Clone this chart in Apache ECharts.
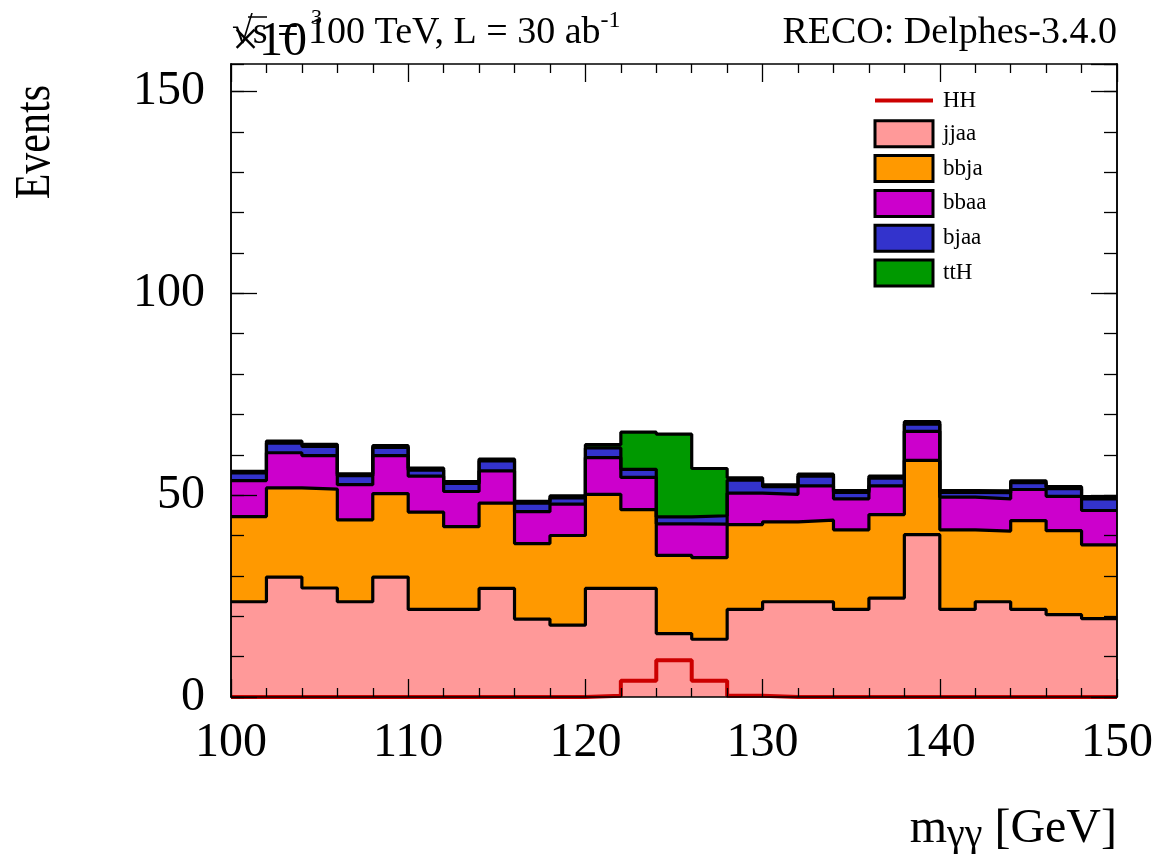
<!DOCTYPE html>
<html>
<head>
<meta charset="utf-8">
<script src="https://cdn.jsdelivr.net/npm/echarts@6/dist/echarts.min.js"></script>
<style>
  html, body { margin: 0; padding: 0; background: #ffffff; }
  #chart { width: 1159px; height: 854px; }
</style>
</head>
<body>
<div id="chart"></div>
<script>
// Diphoton invariant mass, stacked backgrounds; events in units of 10^3 per 2 GeV bin.
const binEdges = [100, 102, 104, 106, 108, 110, 112, 114, 116, 118, 120, 122, 124,
                  126, 128, 130, 132, 134, 136, 138, 140, 142, 144, 146, 148, 150];

const jjaa = [23.6, 29.7, 27.0, 23.6, 29.7, 21.7, 21.7, 26.9, 19.3, 17.8, 26.9, 26.9, 15.7,
              14.3, 21.7, 23.6, 23.6, 21.7, 24.5, 40.2, 21.7, 23.6, 21.7, 20.4, 19.4];
const bbja = [21.1, 22.1, 24.5, 20.3, 20.7, 24.1, 20.5, 21.1, 18.7, 22.2, 23.3, 19.5, 19.4,
              20.2, 21.0, 19.8, 20.2, 19.7, 20.7, 18.4, 19.7, 17.5, 22.0, 20.8, 18.3];
const bbaa = [8.9, 8.7, 8.3, 8.7, 9.4, 8.9, 8.7, 8.0, 7.9, 7.8, 9.1, 8.0, 7.8,
              8.3, 7.8, 6.8, 8.5, 7.7, 7.1, 7.2, 8.1, 8.0, 7.7, 8.5, 8.5];
const bjaa = [1.9, 2.4, 2.3, 2.2, 2.0, 1.5, 2.0, 2.5, 2.1, 1.5, 2.4, 2.0, 1.7,
              2.1, 3.2, 1.9, 2.4, 1.6, 1.9, 1.8, 1.2, 1.5, 1.7, 1.9, 2.9];
const ttH  = [0.4, 0.5, 0.5, 0.45, 0.45, 0.5, 0.45, 0.45, 0.45, 0.5, 0.8, 9.2, 20.5,
              11.7, 0.6, 0.45, 0.5, 0.45, 0.5, 0.6, 0.45, 0.45, 0.45, 0.5, 0.55];
const HH   = [0, 0, 0, 0, 0, 0, 0, 0, 0, 0, 0.3, 4.0, 9.1,
              4.0, 0.3, 0, 0, 0, 0, 0, 0, 0, 0, 0, 0];

const xTicks = [100, 110, 120, 130, 140, 150];
const yTicks = [0, 50, 100, 150];

const SERIF = '"Liberation Serif", "DejaVu Serif", serif';

// Stack order from bottom to top, with fill colours.
const layers = [
  { name: 'jjaa', values: jjaa, color: '#ff9999' },
  { name: 'bbja', values: bbja, color: '#ff9900' },
  { name: 'bbaa', values: bbaa, color: '#cc00cc' },
  { name: 'bjaa', values: bjaa, color: '#3333cc' },
  { name: 'ttH',  values: ttH,  color: '#009900' }
];

// Step outline points: one point per lower bin edge, closed at the upper edge.
function stepPoints(values) {
  const pts = values.map((v, i) => [binEdges[i], v]);
  pts.push([binEdges[binEdges.length - 1], values[values.length - 1]]);
  return pts;
}

// Running totals so each layer is filled from zero up to its cumulative height.
const running = new Array(binEdges.length - 1).fill(0);
const cumulative = layers.map(layer => {
  const totals = layer.values.map((v, i) => (running[i] += v));
  return { ...layer, totals: totals.slice() };
});

// Draw the tallest total first so lower layers paint over it.
const stackSeries = cumulative.slice().reverse().map(layer => ({
  name: layer.name,
  type: 'line',
  step: 'end',
  symbol: 'none',
  data: stepPoints(layer.totals),
  lineStyle: { color: '#000000', width: 3.2 },
  itemStyle: { color: layer.color },
  areaStyle: { color: layer.color, opacity: 1, origin: 'start' },
  emphasis: { disabled: true },
  silent: true,
  z: 2
}));

const hhSeries = {
  name: 'HH',
  type: 'line',
  step: 'end',
  symbol: 'none',
  clip: false,
  data: stepPoints(HH),
  lineStyle: { color: '#cc0000', width: 4 },
  itemStyle: { color: '#cc0000' },
  emphasis: { disabled: true },
  silent: true,
  z: 3
};

const Y_MAX = 156.8;

function xAxisDef(position, showLabels) {
  return {
    type: 'value', position: position, min: xTicks[0], max: xTicks[xTicks.length - 1],
    interval: xTicks[1] - xTicks[0], z: 10,
    axisLine: { show: true, onZero: false, lineStyle: { color: '#000000', width: 1.5 } },
    axisTick: { show: true, inside: true, length: 18, lineStyle: { color: '#000000', width: 1.3 } },
    minorTick: { show: true, splitNumber: 5, length: 9, lineStyle: { color: '#000000', width: 1.3 } },
    splitLine: { show: false },
    axisLabel: { show: showLabels, color: '#000000', fontFamily: SERIF, fontSize: 48, margin: 22 }
  };
}

function yAxisDef(position, interval, tickLen, showLabels) {
  return {
    type: 'value', position: position, min: yTicks[0], max: Y_MAX,
    interval: interval, z: 10,
    axisLine: { show: true, onZero: false, lineStyle: { color: '#000000', width: 1.5 } },
    axisTick: { show: true, inside: true, length: tickLen, lineStyle: { color: '#000000', width: 1.3 } },
    splitLine: { show: false },
    axisLabel: {
      show: showLabels, color: '#000000', fontFamily: SERIF, fontSize: 48, margin: 26,
      showMaxLabel: false,
      formatter: v => (yTicks.indexOf(v) >= 0 ? String(v) : '')
    }
  };
}

// HH is a plain line in the key; the stacked samples get outlined boxes.
const legendItems = [{
  name: 'HH',
  itemStyle: { color: 'rgba(0,0,0,0)', borderWidth: 0, opacity: 0 },
  lineStyle: { color: '#cc0000', width: 4 }
}].concat(layers.map(l => ({
  name: l.name,
  icon: 'rect',
  itemStyle: { color: l.color, borderColor: '#000000', borderWidth: 3 }
})));

const option = {
  backgroundColor: '#ffffff',
  animation: false,
  grid: { left: 231, top: 64, width: 886, height: 633, containLabel: false },
  xAxis: [xAxisDef('bottom', true), xAxisDef('top', false)],
  yAxis: [
    yAxisDef('left', yTicks[1] - yTicks[0], 26, true),
    yAxisDef('left', 10, 13, false),
    yAxisDef('right', yTicks[1] - yTicks[0], 26, false),
    yAxisDef('right', 10, 13, false)
  ],
  legend: {
    orient: 'vertical', left: 873, top: 87.5, padding: 0,
    itemWidth: 58, itemHeight: 26, itemGap: 5.8,
    selectedMode: false,
    data: legendItems,
    textStyle: { color: '#000000', fontFamily: SERIF, fontSize: 23, lineHeight: 26, padding: [0, 0, 0, 5] }
  },
  series: stackSeries.concat([hhSeries]),
  graphic: [
    {
      type: 'text', x: 232, y: 8.5, silent: true,
      style: {
        text: '{a|√s = 100 TeV, L = 30 ab}{b|-1}',
        align: 'left', verticalAlign: 'top', textAlign: 'left', textVerticalAlign: 'top',
        rich: {
          a: { fontFamily: SERIF, fontSize: 38, lineHeight: 38, padding: [6, 0, 0, 0], verticalAlign: 'top', fill: '#000' },
          b: { fontFamily: SERIF, fontSize: 24, lineHeight: 24, verticalAlign: 'top', fill: '#000' }
        }
      }
    },
    {
      type: 'line', silent: true,
      shape: { x1: 248, y1: 17, x2: 267, y2: 17 },
      style: { stroke: '#000000', lineWidth: 1.5 }
    },
    {
      type: 'text', x: 232, y: 18, silent: true,
      style: {
        text: '×10', fill: '#000000', font: '48px ' + SERIF,
        align: 'left', verticalAlign: 'top', textAlign: 'left', textVerticalAlign: 'top'
      }
    },
    {
      type: 'text', x: 311, y: 7, silent: true,
      style: {
        text: '3', fill: '#000000', font: '22px ' + SERIF,
        align: 'left', verticalAlign: 'top', textAlign: 'left', textVerticalAlign: 'top'
      }
    },
    {
      type: 'text', x: 1117, y: 14.5, silent: true,
      style: {
        text: 'RECO: Delphes-3.4.0', fill: '#000000', font: '38px ' + SERIF,
        align: 'right', verticalAlign: 'top', textAlign: 'right', textVerticalAlign: 'top'
      }
    },
    {
      type: 'text', x: 36, y: 85, rotation: Math.PI / 2, scaleY: 1.2, silent: true,
      style: {
        text: 'Events', fill: '#000000', font: '42px ' + SERIF,
        align: 'right', verticalAlign: 'middle', textAlign: 'right', textVerticalAlign: 'middle'
      }
    },
    {
      type: 'text', x: 1117, y: 805, silent: true,
      style: {
        text: '{m|m}{s|γγ}{g| [GeV]}',
        align: 'right', verticalAlign: 'top', textAlign: 'right', textVerticalAlign: 'top',
        rich: {
          m: { fontFamily: SERIF, fontSize: 48, lineHeight: 48, verticalAlign: 'top', fill: '#000' },
          s: { fontFamily: SERIF, fontSize: 40, lineHeight: 40, padding: [10, 0, 0, 0], verticalAlign: 'top', fill: '#000' },
          g: { fontFamily: SERIF, fontSize: 48, lineHeight: 48, verticalAlign: 'top', fill: '#000' }
        }
      }
    }
  ]
};

const chart = echarts.init(document.getElementById('chart'), null, { renderer: 'canvas' });
chart.setOption(option);
</script>
</body>
</html>
